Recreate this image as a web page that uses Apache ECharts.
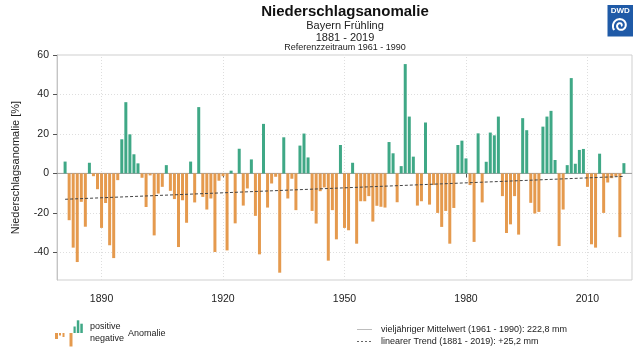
<!DOCTYPE html>
<html>
<head>
<meta charset="utf-8">
<script src="https://cdn.jsdelivr.net/npm/echarts@6/dist/echarts.min.js"></script>
<style>
  html, body { margin: 0; padding: 0; background: #fff; }
  #chart { width: 640px; height: 354px; }
</style>
</head>
<body>
<div id="chart"></div>
<script>
// Niederschlagsanomalie Bayern Frühling, in % vom Mittel 1961-1990
const firstYear = 1881;
const anomalies = [
  6, -23.7, -37.6, -44.9, -14.4, -27, 5.4, -1.4, -8, -27.6,          // 1881-1890
  -15, -36.4, -42.9, -3.4, 17.3, 36.1, 19.8, 9.7, 5.1, -2.2,         // 1891-1900
  -17, -1, -31.4, -10.2, -6.8, 4.2, -8.8, -13, -37.3, -13.6,         // 1901-1910
  -25, 6, -14.7, 33.6, -11.9, -18.3, -12.7, -39.8, -3.7, -1.4,       // 1911-1920
  -39, 1.4, -25.3, 12.5, -16.3, -7.6, 7.1, -21.5, -41, 25.1,         // 1921-1930
  -17.3, -5.1, -1.7, -50.3, 18.3, -12.7, -2.7, -18.6, 14.1, 20.2,    // 1931-1940
  8.1, -19, -25.4, -9, -7.1, -44.2, -18.6, -33.4, 14.4, -27.6,       // 1941-1950
  -28.8, 5.4, -35.6, -14.1, -14.1, -11.5, -24.4, -16.4, -16.9, -17.3,// 1951-1960
  15.9, 10.2, -14.6, 3.7, 55.4, 28.8, 8.5, -16.3, -14.1, 25.8,       // 1961-1970
  -15.8, -5.9, -20, -27.1, -19, -35.6, -17.5, 14.4, 16.6, 7.6,       // 1971-1980
  -5.9, -34.7, 20.3, -14.7, 5.9, 20.7, 19.3, 28.8, -11.5, -30.2,     // 1981-1990
  -25.8, -11.5, -31, 28, 21.9, -14.9, -20.3, -19.5, 23.7, 28.8,      // 1991-2000
  31.7, 6.8, -36.8, -18.3, 4.2, 48.3, 4.9, 11.9, 12.4, -6.8,         // 2001-2010
  -35.9, -37.6, 10, -20, -4.6, -2.4, -1.4, -32.3, 5.2                // 2011-2019
];
const trendYears = [1881, 2019];
const trendValues = [-13.1, -1.5];
const yTicks = [-40, -20, 0, 20, 40, 60];
const xTicks = [1890, 1920, 1950, 1980, 2010];

const GREEN = "#3fa886";
const ORANGE = "#e59a4e";

const chart = echarts.init(document.getElementById("chart"));

const barData = anomalies.map((v, i) => [firstYear + i, v]);
const trendData = trendYears.map((y, i) => [y, trendValues[i]]);

// dotted grid lines at the tick positions
const gridMarks = [];
yTicks.filter(v => v !== 0 && v !== 60).forEach(v => gridMarks.push({ yAxis: v }));
xTicks.forEach(v => gridMarks.push({ xAxis: v }));

// spiral for the logo
const spiral = [];
for (let t = 0; t <= 3.4 * Math.PI; t += 0.15) {
  const r = 0.8 + 0.66 * t;
  spiral.push([620.4 + r * Math.cos(-t + 0.6), 25.5 + r * Math.sin(-t + 0.6)]);
}

const legendBars = [
  [55, 333, 3, 6, ORANGE], [59, 333, 2, 2.5, ORANGE], [62.5, 333, 2, 4, ORANGE],
  [69.5, 333, 3, 13.5, ORANGE],
  [73.5, 326.5, 2.2, 6.5, GREEN], [76.8, 320.3, 2.5, 12.7, GREEN], [80.3, 323.7, 2.5, 9.3, GREEN]
];

const option = {
  animation: false,
  textStyle: { fontFamily: "Liberation Sans, Arial, sans-serif" },
  grid: { left: 57, right: 8, top: 55, bottom: 74, show: true, borderColor: "#cfcfcf", borderWidth: 1 },
  xAxis: {
    type: "value",
    min: 1879,
    max: 2021,
    axisLine: { show: false },
    axisTick: { show: true, length: 4, customValues: xTicks, lineStyle: { color: "#555" } },
    axisLabel: { customValues: xTicks, color: "#222", fontSize: 10.5, margin: 14, formatter: v => String(v) },
    splitLine: { show: false }
  },
  yAxis: {
    type: "value",
    min: -54,
    max: 60,
    name: "Niederschlagsanomalie [%]",
    nameLocation: "middle",
    nameRotate: 90,
    nameGap: 36,
    nameTextStyle: { fontSize: 11, color: "#222" },
    axisLine: { show: true, lineStyle: { color: "#c4c4c4" } },
    axisTick: { show: true, length: 4, customValues: yTicks, lineStyle: { color: "#555" } },
    axisLabel: { customValues: yTicks, color: "#222", fontSize: 10.5, margin: 8 },
    splitLine: { show: false }
  },
  series: [
    {
      name: "vieljähriger Mittelwert",
      type: "line",
      z: 1,
      data: [[1879, 0], [2021, 0]],
      symbol: "none",
      silent: true,
      lineStyle: { color: "#9a9a9a", width: 1 },
      markLine: {
        z: 0,
        silent: true,
        symbol: "none",
        label: { show: false },
        lineStyle: { color: "#dedede", type: [1, 2], width: 1 },
        data: gridMarks
      }
    },
    {
      name: "Anomalie",
      type: "bar",
      z: 2,
      barWidth: 3,
      data: barData,
      itemStyle: {
        color: p => (p.value[1] >= 0 ? GREEN : ORANGE)
      }
    },
    {
      name: "linearer Trend",
      type: "line",
      z: 3,
      data: trendData,
      symbol: "none",
      silent: true,
      lineStyle: { color: "#444", width: 1, type: [3, 2] }
    }
  ],
  graphic: [
    { type: "text", x: 345, y: 12, style: { text: "Niederschlagsanomalie", fontSize: 15, fontWeight: "bold", fill: "#111", textAlign: "center", textVerticalAlign: "middle", fontFamily: "Liberation Sans" } },
    { type: "text", x: 345, y: 25.5, style: { text: "Bayern Frühling", fontSize: 11, fill: "#222", textAlign: "center", textVerticalAlign: "middle", fontFamily: "Liberation Sans" } },
    { type: "text", x: 345, y: 38, style: { text: "1881 - 2019", fontSize: 11, fill: "#222", textAlign: "center", textVerticalAlign: "middle", fontFamily: "Liberation Sans" } },
    { type: "text", x: 345, y: 48, style: { text: "Referenzzeitraum 1961 - 1990", fontSize: 9, fill: "#222", textAlign: "center", textVerticalAlign: "middle", fontFamily: "Liberation Sans" } },

    { type: "rect", shape: { x: 607.5, y: 5, width: 25.5, height: 31.5 }, style: { fill: "#1f5aa7" } },
    { type: "text", x: 620.3, y: 10.8, style: { text: "DWD", fontSize: 8, fontWeight: "bold", fill: "#fff", textAlign: "center", textVerticalAlign: "middle", fontFamily: "Liberation Sans" } },
    { type: "polyline", shape: { points: spiral }, style: { stroke: "#fff", lineWidth: 2, fill: null } },

    ...legendBars.map(b => ({ type: "rect", shape: { x: b[0], y: b[1], width: b[2], height: b[3] }, style: { fill: b[4] } })),
    { type: "text", x: 90, y: 327, style: { text: "positive", fontSize: 9, fill: "#222", textVerticalAlign: "middle", fontFamily: "Liberation Sans" } },
    { type: "text", x: 90, y: 338.5, style: { text: "negative", fontSize: 9, fill: "#222", textVerticalAlign: "middle", fontFamily: "Liberation Sans" } },
    { type: "text", x: 128, y: 333.5, style: { text: "Anomalie", fontSize: 9, fill: "#222", textVerticalAlign: "middle", fontFamily: "Liberation Sans" } },

    { type: "line", shape: { x1: 357, y1: 329.5, x2: 372, y2: 329.5 }, style: { stroke: "#bdbdbd", lineWidth: 1 } },
    { type: "line", shape: { x1: 357, y1: 341.5, x2: 372, y2: 341.5 }, style: { stroke: "#666", lineWidth: 1, lineDash: [2, 2] } },
    { type: "text", x: 381, y: 329.5, style: { text: "vieljähriger Mittelwert (1961 - 1990): 222,8 mm", fontSize: 9, fill: "#222", textVerticalAlign: "middle", fontFamily: "Liberation Sans" } },
    { type: "text", x: 381, y: 341.5, style: { text: "linearer Trend (1881 - 2019): +25,2 mm", fontSize: 9, fill: "#222", textVerticalAlign: "middle", fontFamily: "Liberation Sans" } }
  ]
};

chart.setOption(option);
window.addEventListener("resize", () => chart.resize());
</script>
</body>
</html>
